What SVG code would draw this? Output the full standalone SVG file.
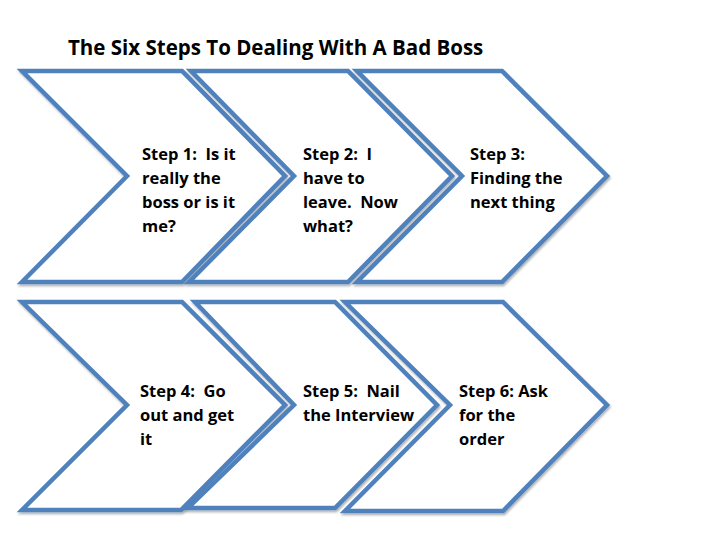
<svg xmlns="http://www.w3.org/2000/svg" width="720" height="540" viewBox="0 0 720 540">
<defs>
<filter id="sh" x="-5%" y="-5%" width="110%" height="110%">
<feDropShadow dx="1" dy="2" stdDeviation="1.2" flood-color="#000" flood-opacity="0.3"/>
</filter>
</defs>
<style>
.chev{fill:#fff;stroke:#4F81BD;stroke-width:4.5;stroke-linejoin:miter;filter:url(#sh)}
.lbl{font-family:"Open Sans","Liberation Sans",sans-serif;font-weight:700;font-size:16.5px;fill:#000;white-space:pre}
.title{font-family:"Open Sans","Liberation Sans",sans-serif;font-weight:700;font-size:20.5px;fill:#000}
</style>
<rect width="720" height="540" fill="#fff"/>
<text id="title" class="title" x="68" y="55">The Six Steps To Dealing With A Bad Boss</text>
<g id="connectors"></g>
<g id="step1">
<polygon class="chev" points="22,71 182,71 285,176 182,282 22,282 127,176"/>
<text class="lbl" xml:space="preserve"><tspan x="142" y="160">Step 1:  Is it</tspan><tspan x="142" y="184">really the</tspan><tspan x="142" y="208">boss or is it</tspan><tspan x="142" y="232">me?</tspan></text>
</g>
<g id="step2">
<polygon class="chev" points="191,71 348,71 452,176 348,282 189,282 294,176"/>
<text class="lbl" xml:space="preserve"><tspan x="303" y="160">Step 2:  I</tspan><tspan x="303" y="184">have to</tspan><tspan x="303" y="208">leave.  Now</tspan><tspan x="303" y="232">what?</tspan></text>
</g>
<g id="step3">
<polygon class="chev" points="357,71 502,71 607,176 502,282 357,282 462,176"/>
<text class="lbl" xml:space="preserve"><tspan x="470" y="160">Step 3:</tspan><tspan x="470" y="184">Finding the</tspan><tspan x="470" y="208">next thing</tspan></text>
</g>
<g id="step4">
<polygon class="chev" points="22,302 182,302 285,405 181,510 22,510 127,405"/>
<text class="lbl" xml:space="preserve"><tspan x="140" y="397">Step 4:  Go</tspan><tspan x="140" y="421">out and get</tspan><tspan x="140" y="445">it</tspan></text>
</g>
<g id="step5">
<polygon class="chev" points="195,302 335,302 437,405 335,508 188,508 294,405"/>
<text class="lbl" xml:space="preserve"><tspan x="303" y="397">Step 5:  Nail</tspan><tspan x="303" y="421">the Interview</tspan></text>
</g>
<g id="step6">
<polygon class="chev" points="345,302 503,302 607,405 503,511 345,511 450,405"/>
<text class="lbl" xml:space="preserve"><tspan x="459" y="397">Step 6: Ask</tspan><tspan x="459" y="421">for the</tspan><tspan x="459" y="445">order</tspan></text>
</g>
</svg>
